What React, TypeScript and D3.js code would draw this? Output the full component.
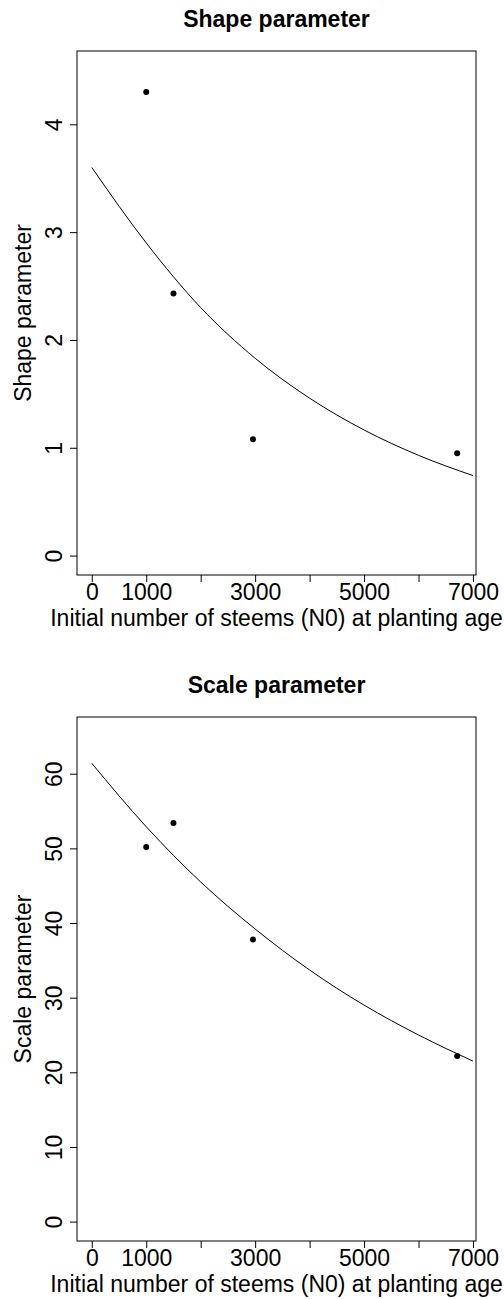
import React, { useEffect, useRef } from "react";
import * as d3 from "d3";

// observed points (initial stems per ha)
const nStems = [1000, 1500, 2960, 6710];
const shapeValues = [4.3, 2.43, 1.08, 0.95];
const scaleValues = [50.2, 53.4, 37.8, 22.2];

// fitted curve at every 1000 stems
const curveStems = [0, 1000, 2000, 3000, 4000, 5000, 6000, 7000];
const shapeCurve = [3.6, 2.9, 2.3, 1.83, 1.46, 1.165, 0.93, 0.742];
const scaleCurve = [61.4, 52.9, 45.5, 39.2, 33.7, 29.0, 25.0, 21.5];

const xTicks = [0, 1000, 2000, 3000, 4000, 5000, 6000, 7000];
const xTickLabels = ["0", "1000", "", "3000", "", "5000", "", "7000"];
const shapeTicks = [0, 1, 2, 3, 4];
const scaleTicks = [0, 10, 20, 30, 40, 50, 60];

const xLabel = "Initial number of steems (N0) at planting age";

const FONT = "'Liberation Sans', Arial, Helvetica, sans-serif";
const FS = 23;

const App = () => {
    const ref = useRef<SVGSVGElement | null>(null);

    useEffect(() => {
        const svg = d3.select(ref.current);
        svg.selectAll("*").remove();

        const box = { left: 77, right: 476, height: 524 };
        const panels = [
            { top: 51, title: "Shape parameter", yLabel: "Shape parameter", ymax: 4.5, ticks: shapeTicks, points: shapeValues, curve: shapeCurve },
            { top: 717, title: "Scale parameter", yLabel: "Scale parameter", ymax: 65, ticks: scaleTicks, points: scaleValues, curve: scaleCurve },
        ];

        // R style 4% padding around the data range
        const padX = (box.right - box.left) * 0.04 / 1.08;
        const x = d3.scaleLinear()
            .domain([0, 6784])
            .range([box.left + padX, box.right - padX]);

        panels.forEach(p => {
            const bottom = p.top + box.height;
            const padY = box.height * 0.04 / 1.08;
            const y = d3.scaleLinear()
                .domain([0, p.ymax])
                .range([bottom - padY, p.top + padY]);

            const g = svg.append("g");

            // title
            g.append("text")
                .attr("x", (box.left + box.right) / 2)
                .attr("y", p.top - 24)
                .attr("text-anchor", "middle")
                .attr("font-family", FONT)
                .attr("font-weight", "bold")
                .attr("font-size", FS)
                .text(p.title);

            // frame
            g.append("rect")
                .attr("x", box.left)
                .attr("y", p.top)
                .attr("width", box.right - box.left)
                .attr("height", box.height)
                .attr("fill", "none")
                .attr("stroke", "#000")
                .attr("stroke-width", 1);

            // x axis
            const xAxis = g.append("g")
                .attr("transform", "translate(0," + bottom + ")")
                .call(d3.axisBottom(x)
                    .tickValues(xTicks)
                    .tickSize(7)
                    .tickPadding(2)
                    .tickFormat((d, i) => xTickLabels[i]));
            xAxis.select(".domain").remove();
            xAxis.selectAll("text")
                .attr("font-family", FONT)
                .attr("font-size", FS)
                .attr("fill", "#000");

            // y axis
            const yAxis = g.append("g")
                .attr("transform", "translate(" + box.left + ",0)")
                .call(d3.axisLeft(y).tickValues(p.ticks).tickSize(7).tickFormat(d3.format("d")));
            yAxis.select(".domain").remove();
            yAxis.selectAll(".tick text")
                .attr("font-family", FONT)
                .attr("font-size", FS)
                .attr("fill", "#000")
                .attr("text-anchor", "middle")
                .attr("x", null)
                .attr("dy", null)
                .attr("transform", "translate(-15.5,0) rotate(-90)");

            // axis titles
            g.append("text")
                .attr("x", (box.left + box.right) / 2)
                .attr("y", bottom + 51)
                .attr("text-anchor", "middle")
                .attr("font-family", FONT)
                .attr("font-size", FS)
                .text(xLabel);

            g.append("text")
                .attr("transform", "translate(31," + (p.top + box.height / 2) + ") rotate(-90)")
                .attr("text-anchor", "middle")
                .attr("font-family", FONT)
                .attr("font-size", FS)
                .text(p.yLabel);

            // fitted curve
            const line = d3.line<number>()
                .x((d, i) => x(curveStems[i]))
                .y(d => y(d))
                .curve(d3.curveMonotoneX);
            g.append("path")
                .datum(p.curve)
                .attr("d", line)
                .attr("fill", "none")
                .attr("stroke", "#000")
                .attr("stroke-width", 1);

            // observed points
            g.append("g")
                .selectAll("circle")
                .data(p.points)
                .enter()
                .append("circle")
                .attr("cx", (d, i) => x(nStems[i]))
                .attr("cy", d => y(d))
                .attr("r", 3)
                .attr("fill", "#000");
        });
    }, []);

    return (
        <div style={{ position: "absolute", left: 0, top: 0 }}>
            <svg ref={ref} width={504} height={1299} style={{ display: "block", background: "#fff" }} />
        </div>
    );
};

export default App;
